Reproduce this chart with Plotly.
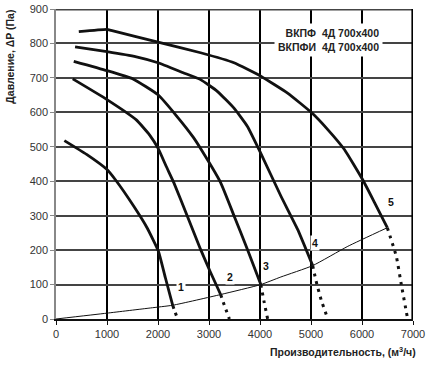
import plotly.graph_objects as go

# ---- data ----
c1_x = [164, 600, 1000, 1161, 1522, 1785, 2008, 2146, 2290]
c1_y = [518, 478, 434, 405, 328, 265, 197, 119, 39]
c1_dx = [2290, 2335, 2385]
c1_dy = [39, 20, 0]

c2_x = [328, 1000, 1575, 1837, 2000, 2165, 2310, 2572, 2835, 3031, 3228]
c2_y = [697, 637, 578, 534, 496, 442, 396, 300, 202, 135, 71]
c2_dx = [3228, 3300, 3400]
c2_dy = [71, 40, 0]

c3_x = [348, 1000, 1510, 2000, 2362, 2690, 2835, 3228, 3490, 3754, 4016]
c3_y = [748, 721, 697, 651, 590, 528, 495, 396, 300, 202, 100]
c3_dx = [4016, 4080, 4150]
c3_dy = [100, 50, 0]

c4_x = [374, 1000, 1575, 2000, 2494, 2835, 3163, 3490, 3754, 4016, 4409, 4738, 5033]
c4_y = [790, 776, 761, 744, 715, 695, 661, 612, 559, 481, 357, 260, 155]
c4_dx = [5033, 5100, 5200, 5330]
c4_dy = [155, 110, 55, 0]

c5_x = [447, 1000, 1080, 2000, 2835, 3490, 4016, 4541, 5020, 5329, 5655, 6030, 6246, 6496]
c5_y = [834, 841, 838, 804, 773, 744, 705, 656, 598, 550, 492, 400, 338, 265]
c5_dx = [6496, 6673, 6771, 6895]
c5_dy = [265, 182, 100, 0]

sys_x = [0, 1000, 1850, 2290, 3228, 4016, 4409, 5033, 5722, 6496]
sys_y = [0, 17, 32, 40, 71, 100, 122, 155, 211, 265]

label_text = ["1", "2", "3", "4", "5"]
label_x = [2460, 3405, 4114, 5085, 6575]
label_y = [94, 123, 153, 221, 341]

x_ticks = [0, 1000, 2000, 3000, 4000, 5000, 6000, 7000]
y_ticks = [0, 100, 200, 300, 400, 500, 600, 700, 800, 900]

title_lines = ["ВКПФ\u00a0 4Д 700x400", "ВКПФИ\u00a0 4Д 700x400"]
x_title = "Производительность, (м<sup>3</sup>/ч)"
y_title = "Давление, ΔP (Па)"

FONT = "Liberation Sans, Arial, sans-serif"
INK = "#111111"
VGRID = "#000000"
HGRID = "#444444"

fig = go.Figure()

x_lo, x_hi = x_ticks[0], x_ticks[-1]
y_lo, y_hi = y_ticks[0], y_ticks[-1]

# top and right frame edges as traces (half clipped, so drawn wider)
fig.add_trace(go.Scatter(x=[x_lo, x_hi], y=[y_hi, y_hi], mode="lines",
                         line=dict(color=HGRID, width=3.2), hoverinfo="skip"))
fig.add_trace(go.Scatter(x=[x_hi, x_hi], y=[y_lo, y_hi], mode="lines",
                         line=dict(color=VGRID, width=3.2), hoverinfo="skip"))

solid = [(c1_x, c1_y), (c2_x, c2_y), (c3_x, c3_y), (c4_x, c4_y), (c5_x, c5_y)]
dotted = [(c1_dx, c1_dy), (c2_dx, c2_dy), (c3_dx, c3_dy), (c4_dx, c4_dy), (c5_dx, c5_dy)]

fig.add_trace(go.Scatter(x=sys_x, y=sys_y, mode="lines",
                         line=dict(color=INK, width=1, shape="spline", smoothing=0.5),
                         hoverinfo="skip"))
for xs, ys in solid:
    fig.add_trace(go.Scatter(x=xs, y=ys, mode="lines",
                             line=dict(color=INK, width=2.8, shape="spline", smoothing=0.4),
                             hoverinfo="skip"))
for xs, ys in dotted:
    fig.add_trace(go.Scatter(x=xs, y=ys, mode="lines",
                             line=dict(color=INK, width=3, dash="3px,5px", shape="spline", smoothing=0.4),
                             hoverinfo="skip"))

for t, lx, ly in zip(label_text, label_x, label_y):
    fig.add_annotation(x=lx, y=ly, text=t, showarrow=False, bgcolor="white",
                       xanchor="center", yanchor="middle", borderpad=1,
                       font=dict(family=FONT, size=10.5, color=INK, weight="bold"))

fig.add_annotation(xref="paper", yref="paper", x=0.762, y=0.901,
                   xanchor="center", yanchor="middle",
                   text="<br>".join(title_lines), showarrow=False, align="right",
                   bgcolor="white", borderpad=3,
                   font=dict(family=FONT, size=10.5, color="#222222", weight="bold"))

fig.add_annotation(xref="paper", yref="paper", x=-0.129, y=0.846, textangle=-90,
                   text=y_title, showarrow=False, xanchor="center", yanchor="middle",
                   font=dict(family=FONT, size=10.5, color="#222222", weight="bold"))
fig.add_annotation(xref="paper", yref="paper", x=0.804, y=-0.1055,
                   text=x_title, showarrow=False, xanchor="center", yanchor="middle",
                   font=dict(family=FONT, size=10.5, color="#222222", weight="bold"))

fig.update_layout(
    width=431, height=371,
    margin=dict(l=56, r=18, t=9, b=52, autoexpand=False),
    paper_bgcolor="white", plot_bgcolor="white",
    showlegend=False,
    font=dict(family=FONT, size=11, color="#333333"),
    xaxis=dict(range=[x_lo, x_hi], tickvals=x_ticks, showgrid=True, gridcolor=VGRID,
               gridwidth=1.6, automargin=False,
               zeroline=False, showline=True, linecolor=INK,
               linewidth=1.5, ticks="outside", ticklen=4, tickcolor=INK),
    yaxis=dict(range=[y_lo, y_hi], tickvals=y_ticks, showgrid=True, gridcolor=HGRID,
               gridwidth=1.6, automargin=False,
               zeroline=False, showline=True, linecolor="#888888",
               linewidth=1.5, ticks="outside", ticklen=4, tickcolor="#888888"),
)

fig.write_html("out.html")
